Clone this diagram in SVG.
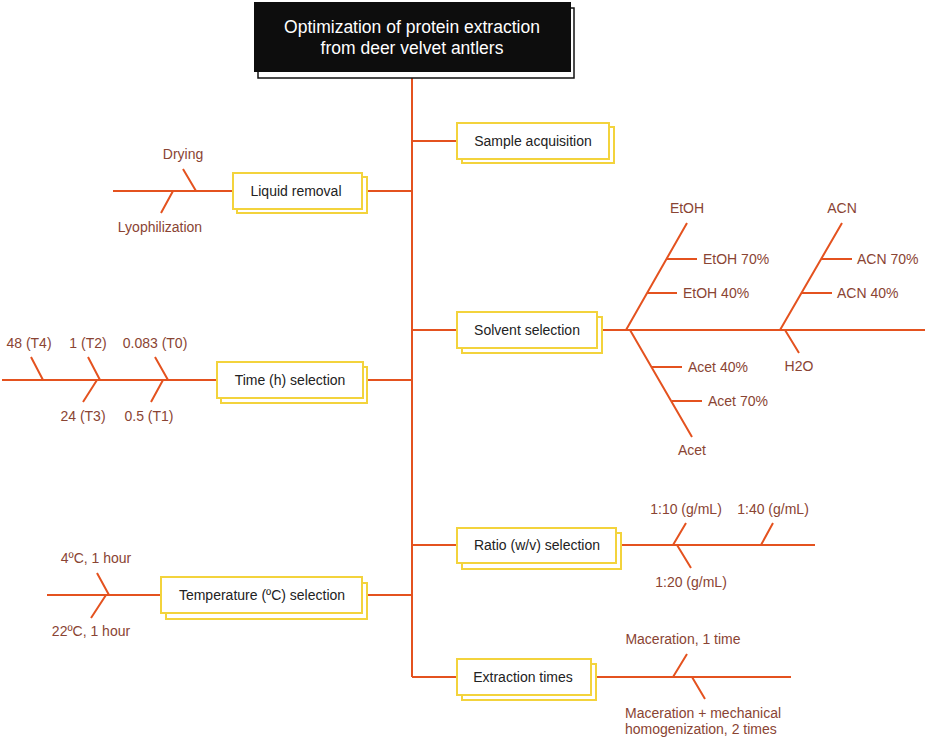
<svg xmlns="http://www.w3.org/2000/svg" width="927" height="738" viewBox="0 0 927 738">
<style>
.ln{stroke:#e4521f;stroke-width:2;fill:none}
.bx{fill:#fff;stroke:#f3d33c;stroke-width:2}
.bt{font-family:"Liberation Sans",Arial,sans-serif;font-size:14px;fill:#222;text-anchor:middle;dominant-baseline:central}
.lb{font-family:"Liberation Sans",Arial,sans-serif;font-size:14px;fill:#8a4433;dominant-baseline:central}
.c{text-anchor:middle}
.tt{font-family:"Liberation Sans",Arial,sans-serif;font-size:17.5px;fill:#fff;text-anchor:middle}
</style>
<rect width="927" height="738" fill="#fff"/>
<g id="connectors">
<path class="ln" d="M412 72V677"/>
<path class="ln" d="M412 141H457M412 330H457M412 545H457M412 677H457"/>
<path class="ln" d="M412 191H367M412 380H367M412 595H367"/>
<!-- liquid removal -->
<path class="ln" d="M113 191H233M183 169L196 191M173 191L161 213"/>
<!-- time -->
<path class="ln" d="M2 380H217M31 357L43 380M88 357L100 380M97 380L83 402M155 357L168 380M163 380L151 402"/>
<!-- solvent -->
<path class="ln" d="M603 330H925M626 330L687 223M667 259H697M647 293H677M630 330L692 437M652 367H682M672 401H702M780 330L842 223M821 259H852M802 293H832M785 330L799 353"/>
<!-- ratio -->
<path class="ln" d="M621 545H815M673 545L686 523M677 545L691 568M761 545L773 523"/>
<!-- temperature -->
<path class="ln" d="M47 595H161M97 573L109 595M106 595L91 618"/>
<!-- extraction -->
<path class="ln" d="M596 677H791M673 677L687 654M692 677L705 699"/>
</g>
<g id="title">
<rect x="258" y="8" width="316" height="70" fill="#fff" stroke="#111" stroke-width="1.5"/>
<rect x="254" y="2" width="317" height="70" fill="#0d0d0d"/>
<text class="tt" x="412" y="33">Optimization of protein extraction</text>
<text class="tt" x="412" y="54">from deer velvet antlers</text>
</g>
<g id="sample">
<rect class="bx" x="462" y="127" width="152" height="36"/>
<rect class="bx" x="457" y="123" width="152" height="36"/>
<text class="bt" x="533" y="141">Sample acquisition</text>
</g>
<g id="liquid">
<rect class="bx" x="237" y="177" width="130" height="36"/>
<rect class="bx" x="233" y="173" width="129" height="36"/>
<text class="bt" x="296" y="191">Liquid removal</text>
<text class="lb c" x="183" y="154">Drying</text>
<text class="lb c" x="160" y="227">Lyophilization</text>
</g>
<g id="solvent">
<rect class="bx" x="462" y="317" width="140" height="36"/>
<rect class="bx" x="457" y="312" width="140" height="36"/>
<text class="bt" x="527" y="330">Solvent selection</text>
<text class="lb c" x="687" y="208">EtOH</text>
<text class="lb" x="703" y="259">EtOH 70%</text>
<text class="lb" x="683" y="293">EtOH 40%</text>
<text class="lb" x="688" y="367">Acet 40%</text>
<text class="lb" x="708" y="401">Acet 70%</text>
<text class="lb c" x="692" y="450">Acet</text>
<text class="lb c" x="842" y="208">ACN</text>
<text class="lb" x="857" y="259">ACN 70%</text>
<text class="lb" x="837" y="293">ACN 40%</text>
<text class="lb c" x="799" y="366">H2O</text>
</g>
<g id="time">
<rect class="bx" x="221" y="367" width="146" height="36"/>
<rect class="bx" x="217" y="362" width="146" height="36"/>
<text class="bt" x="290" y="380">Time (h) selection</text>
<text class="lb c" x="29" y="343">48 (T4)</text>
<text class="lb c" x="88" y="343">1 (T2)</text>
<text class="lb c" x="155" y="343">0.083 (T0)</text>
<text class="lb c" x="83" y="416">24 (T3)</text>
<text class="lb c" x="149" y="416">0.5 (T1)</text>
</g>
<g id="ratio">
<rect class="bx" x="462" y="533" width="159" height="36"/>
<rect class="bx" x="457" y="528" width="159" height="35"/>
<text class="bt" x="537" y="545">Ratio (w/v) selection</text>
<text class="lb c" x="686" y="509">1:10 (g/mL)</text>
<text class="lb c" x="773" y="509">1:40 (g/mL)</text>
<text class="lb c" x="691" y="582">1:20 (g/mL)</text>
</g>
<g id="temperature">
<rect class="bx" x="166" y="583" width="201" height="36"/>
<rect class="bx" x="161" y="577" width="201" height="36"/>
<text class="bt" x="262" y="595">Temperature (ºC) selection</text>
<text class="lb c" x="96" y="558">4ºC, 1 hour</text>
<text class="lb c" x="91" y="631">22ºC, 1 hour</text>
</g>
<g id="extraction">
<rect class="bx" x="462" y="664" width="134" height="36"/>
<rect class="bx" x="457" y="659" width="134" height="36"/>
<text class="bt" x="523" y="677">Extraction times</text>
<text class="lb c" x="683" y="639">Maceration, 1 time</text>
<text class="lb" x="625" y="713">Maceration + mechanical</text>
<text class="lb" x="625" y="729">homogenization, 2 times</text>
</g>
</svg>
